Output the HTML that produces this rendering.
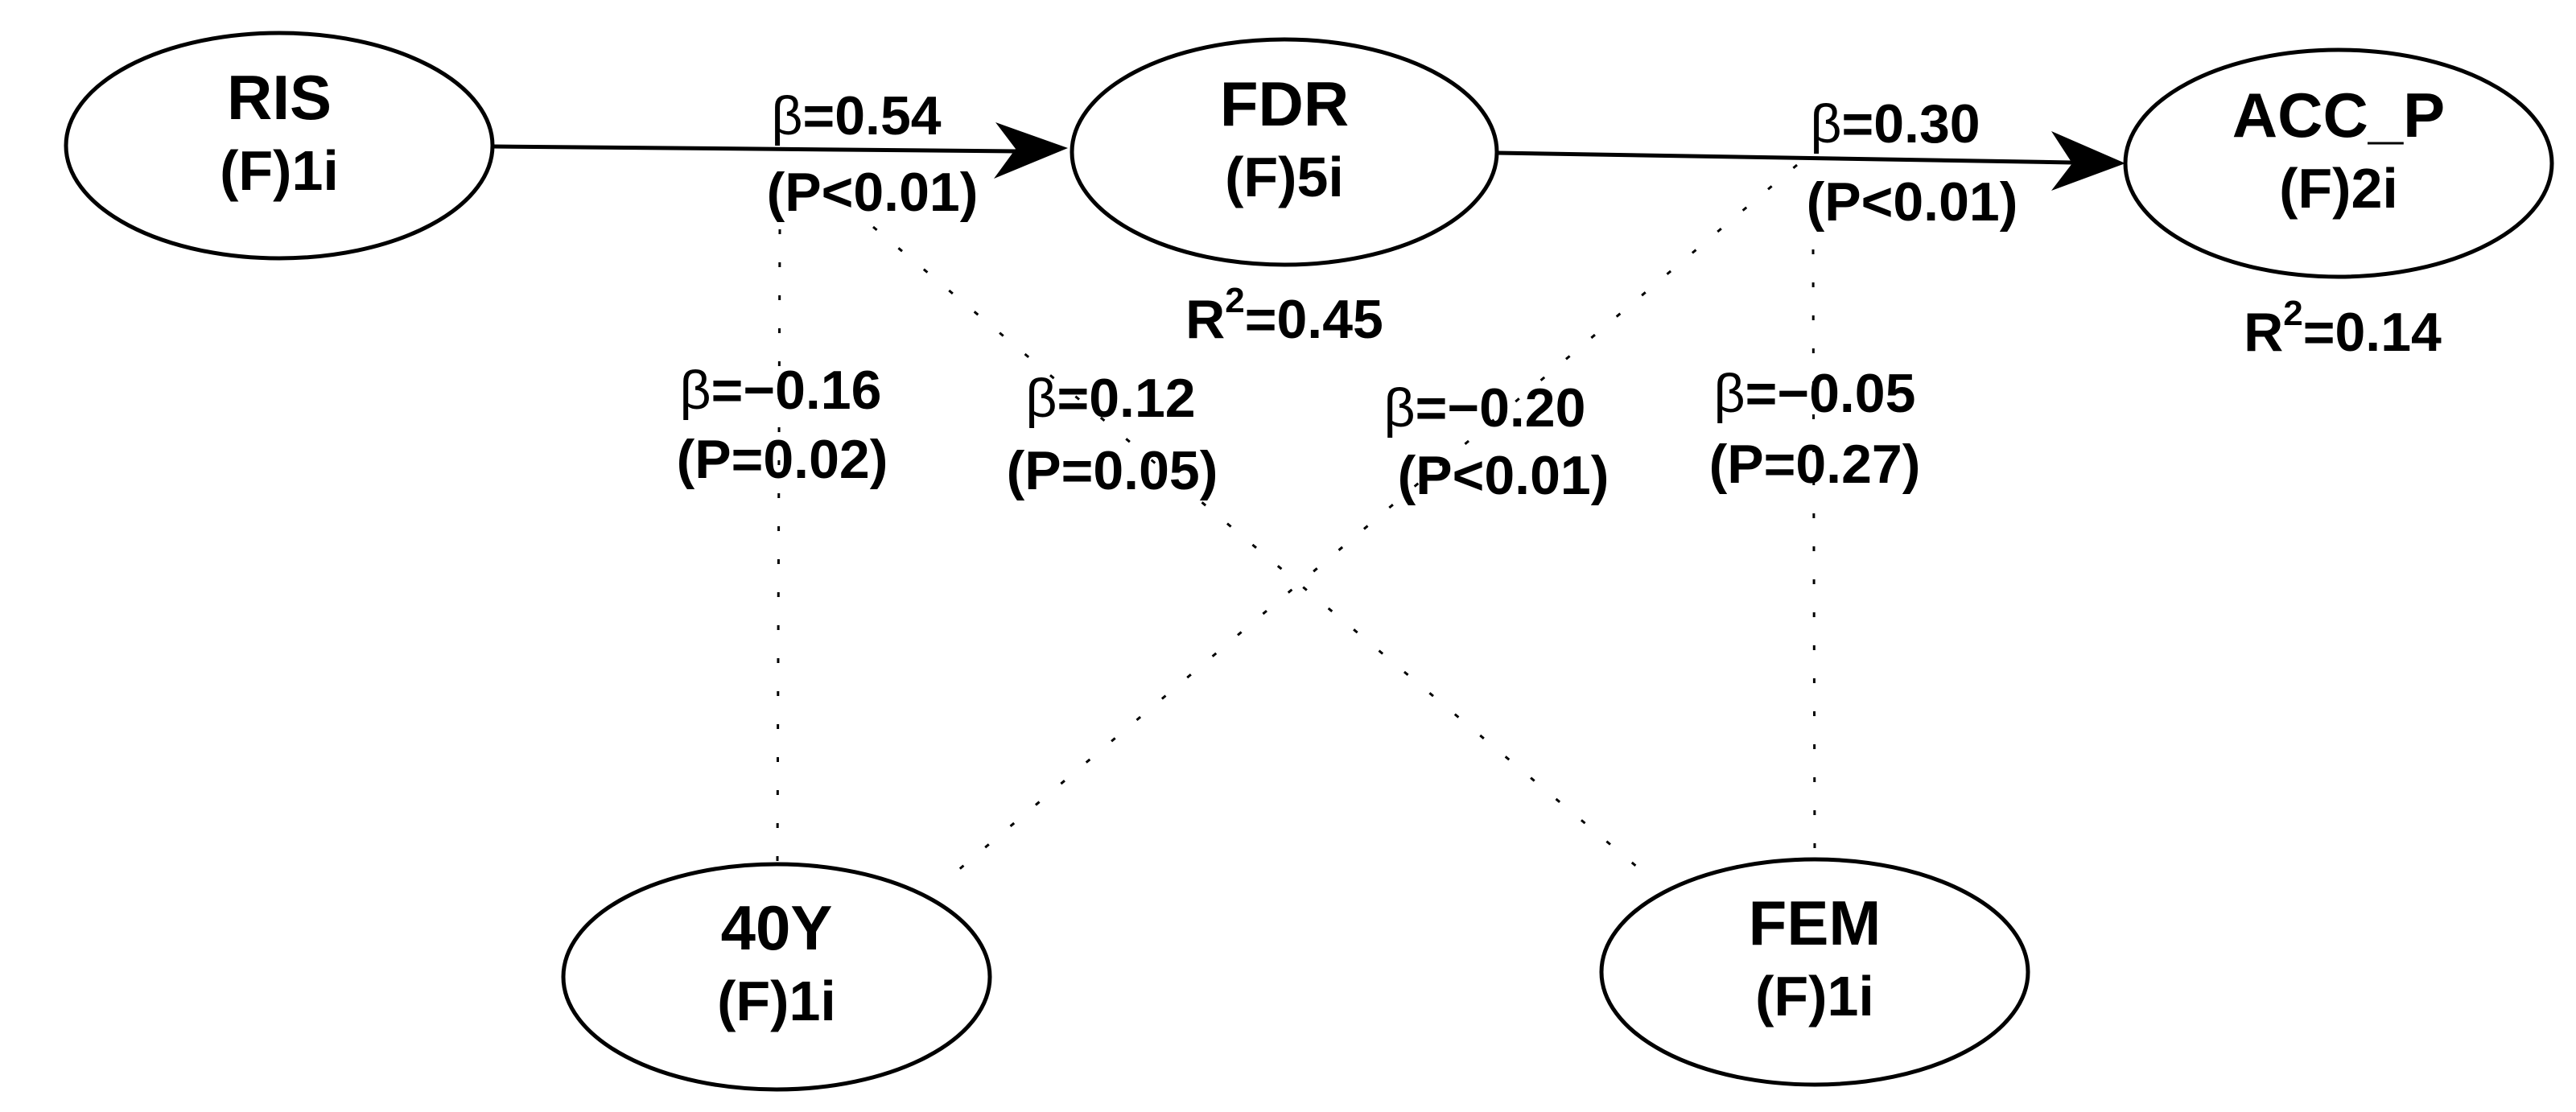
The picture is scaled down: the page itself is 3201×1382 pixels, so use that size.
<!DOCTYPE html>
<html><head><meta charset="utf-8"><style>
html,body{margin:0;padding:0;background:#fff;}
svg{display:block;}
text{font-family:"Liberation Sans",Arial,sans-serif;font-weight:bold;fill:#000;}
</style></head><body>
<svg width="3201" height="1382" viewBox="0 0 3201 1382" xmlns="http://www.w3.org/2000/svg">
<g fill="none" stroke="#000" stroke-width="5">
<ellipse cx="347" cy="181" rx="265" ry="140"/>
<ellipse cx="1596" cy="189" rx="264" ry="140"/>
<ellipse cx="2906" cy="203" rx="265" ry="141"/>
<ellipse cx="965" cy="1214" rx="265" ry="140"/>
<ellipse cx="2255" cy="1208" rx="265" ry="140"/>
</g>
<g stroke="#000" stroke-width="5">
<line x1="612" y1="182" x2="1265" y2="188"/>
<line x1="1860" y1="190" x2="2575" y2="202"/>
</g>
<polygon points="1327,184 1237,152 1262,185 1235,222" fill="#000"/>
<polygon points="2641,203 2549,163 2575,203 2549,237" fill="#000"/>
<g stroke="#000" stroke-width="3" stroke-dasharray="6 35" fill="none">
<line x1="969" y1="285" x2="966" y2="1074"/>
<line x1="1085" y1="282" x2="2041" y2="1083"/>
<line x1="2233" y1="205" x2="1184" y2="1087"/>
<line x1="2253" y1="310" x2="2255" y2="1067"/>
</g>
<g font-size="78" text-anchor="middle">
<text x="347" y="148">RIS</text>
<text x="347" y="236" font-size="70">(F)1i</text>
<text x="1596" y="156">FDR</text>
<text x="1596" y="244" font-size="70">(F)5i</text>
<text x="2906" y="170">ACC_P</text>
<text x="2906" y="258" font-size="70">(F)2i</text>
<text x="965" y="1180">40Y</text>
<text x="965" y="1268" font-size="70">(F)1i</text>
<text x="2255" y="1174">FEM</text>
<text x="2255" y="1262" font-size="70">(F)1i</text>
</g>
<g font-size="68" text-anchor="middle">
<text x="1064" y="167"><tspan font-weight="normal">β</tspan>=0.54</text>
<text x="1084" y="262">(P&lt;0.01)</text>
<text x="2355" y="177"><tspan font-weight="normal">β</tspan>=0.30</text>
<text x="2376" y="274">(P&lt;0.01)</text>
<text x="1596" y="420">R<tspan font-size="44" dy="-32">2</tspan><tspan dy="32">=0.45</tspan></text>
<text x="2911" y="436">R<tspan font-size="44" dy="-32">2</tspan><tspan dy="32">=0.14</tspan></text>
<text x="970" y="508"><tspan font-weight="normal">β</tspan>=−0.16</text>
<text x="972" y="594">(P=0.02)</text>
<text x="1380" y="518"><tspan font-weight="normal">β</tspan>=0.12</text>
<text x="1382" y="608">(P=0.05)</text>
<text x="1845" y="530"><tspan font-weight="normal">β</tspan>=−0.20</text>
<text x="1868" y="614">(P&lt;0.01)</text>
<text x="2255" y="512"><tspan font-weight="normal">β</tspan>=−0.05</text>
<text x="2255" y="600">(P=0.27)</text>
</g>
</svg>
</body></html>
